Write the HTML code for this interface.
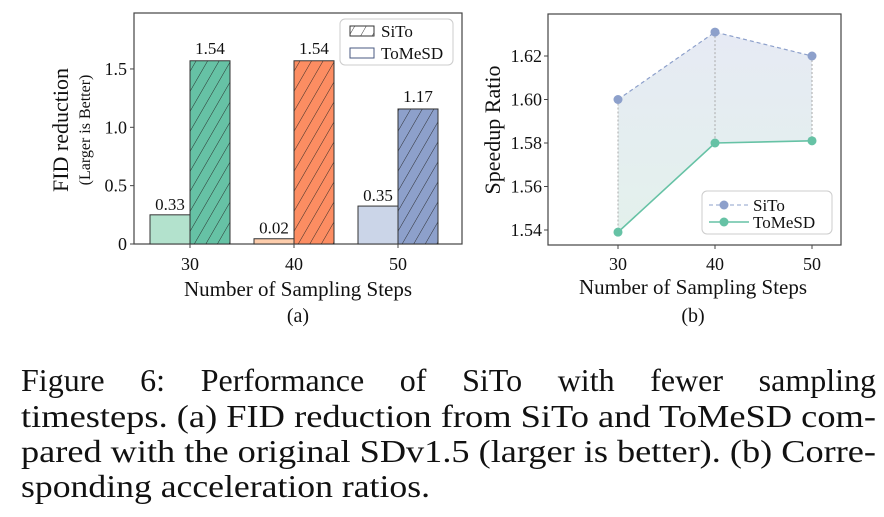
<!DOCTYPE html>
<html><head><meta charset="utf-8"><style>
html,body{margin:0;padding:0;background:#fff;width:884px;height:517px;overflow:hidden}
svg text{font-family:"Liberation Serif",serif;fill:#111}
</style></head><body>
<svg width="884" height="517" viewBox="0 0 884 517" xmlns="http://www.w3.org/2000/svg">
<defs>
<pattern id="hatch" patternUnits="userSpaceOnUse" width="10" height="10" patternTransform="rotate(30)">
<line x1="0" y1="0" x2="0" y2="10" stroke="#222" stroke-width="0.9"/>
</pattern>
<linearGradient id="bandGrad" x1="0" y1="0" x2="0" y2="1">
<stop offset="0" stop-color="#e6eaf4"/><stop offset="1" stop-color="#e3f1ec"/>
</linearGradient>
</defs>
<g id="chartA"></g>
<g id="chartB"></g>
<g font-size="32">
<g id="line1">
<text x="21" y="391">Figure</text>
<text x="125" y="391">6:</text>
<text x="184" y="391">Performance</text>
<text x="378" y="391">of</text>
<text x="440" y="391">SiTo</text>
<text x="522" y="391">with</text>
<text x="618" y="391">fewer</text>
<text x="745" y="391">sampling</text>
</g>
<text x="21" y="427" textLength="855" lengthAdjust="spacingAndGlyphs">timesteps. (a) FID reduction from SiTo and ToMeSD com-</text>
<text x="21" y="462" textLength="855" lengthAdjust="spacingAndGlyphs">pared with the original SDv1.5 (larger is better). (b) Corre-</text>
<text x="21" y="497" textLength="409" lengthAdjust="spacingAndGlyphs">sponding acceleration ratios.</text>
</g>
</svg>
<script>
const stepsA = ["30","40","50"];
const tomeVals = [0.25, 0.045, 0.325];
const sitoVals = [1.57, 1.57, 1.157];
const tomeLabels = ["0.33","0.02","0.35"];
const sitoLabels = ["1.54","1.54","1.17"];
const yTicksA = [0, 0.5, 1.0, 1.5];
const yTickLabelsA = ["0","0.5","1.0","1.5"];

const stepsB = [30, 40, 50];
const sitoSpeed = [1.600, 1.631, 1.620];
const tomeSpeed = [1.539, 1.580, 1.581];
const yTicksB = [1.54, 1.56, 1.58, 1.60, 1.62];
const yTickLabelsB = ["1.54","1.56","1.58","1.60","1.62"];

// justify caption line 1
(function(){
  const ws=[...document.querySelectorAll('#line1 text')];
  const widths=ws.map(w=>w.getComputedTextLength());
  const sum=widths.reduce((a,b)=>a+b,0);
  const gap=(855-sum)/(ws.length-1);
  let x=21;
  ws.forEach((w,i)=>{w.setAttribute('x',x);x+=widths[i]+gap;});
})();

const NS="http://www.w3.org/2000/svg";
function mk(parent,tag,attrs,txt){const e=document.createElementNS(NS,tag);for(const k in attrs)e.setAttribute(k,attrs[k]);if(txt!==undefined)e.textContent=txt;parent.appendChild(e);return e;}

// Chart A
const A=document.getElementById('chartA');
const yA=v=>244-v*116.7;
const xA=i=>190+i*104;
const darkC=["#66c2a5","#fc8d62","#8da0cb"];
const lightC=["#b3e2cd","#fdcdac","#cbd5e8"];
let r=mk(A,'rect',{x:134,y:13,width:328,height:231,fill:'none',stroke:'#444','stroke-width':1.2});


yTicksA.forEach((v,i)=>{
  let l=mk(A,'line',{x1:130,x2:134,y1:yA(v),y2:yA(v),stroke:'#444'});
  
  
  let t=mk(A,'text',{x:127,y:yA(v)+6,'text-anchor':'end','font-size':18},yTickLabelsA[i]);
  
  
});
stepsA.forEach((s,i)=>{
  const cx=xA(i);
  let b1=mk(A,'rect',{x:cx-40,y:yA(tomeVals[i]),width:40,height:yA(0)-yA(tomeVals[i]),fill:lightC[i],stroke:'#333','stroke-width':1});
  
  
  let b2=mk(A,'rect',{x:cx,y:yA(sitoVals[i]),width:40,height:yA(0)-yA(sitoVals[i]),fill:darkC[i],stroke:'#333','stroke-width':1});
  
  
  let h=mk(A,'rect',{x:cx,y:yA(sitoVals[i]),width:40,height:yA(0)-yA(sitoVals[i]),fill:'url(#hatch)'});
  
  
  let t1=mk(A,'text',{x:cx-20,y:yA(tomeVals[i])-5,'text-anchor':'middle','font-size':17},tomeLabels[i]);
  
  
  let t2=mk(A,'text',{x:cx+20,y:yA(sitoVals[i])-7,'text-anchor':'middle','font-size':17},sitoLabels[i]);
  
  
  let tk=mk(A,'line',{x1:cx,x2:cx,y1:244,y2:248,stroke:'#444'});
  
  
  let tl=mk(A,'text',{x:cx,y:270,'text-anchor':'middle','font-size':18},s);
  
  
});
let xt=mk(A,'text',{x:298,y:296,'text-anchor':'middle','font-size':21},'Number of Sampling Steps');


let sa=mk(A,'text',{x:298,y:322,'text-anchor':'middle','font-size':20},'(a)');


let ya=mk(A,'text',{x:0,y:0,'text-anchor':'middle','font-size':22,transform:'translate(68,130) rotate(-90)'},'FID reduction');


let ya2=mk(A,'text',{x:0,y:0,'text-anchor':'middle','font-size':16,transform:'translate(90,130) rotate(-90)'},'(Larger is Better)');


const legA=mk(A,'g',{});


mk(legA,'rect',{x:340,y:19,width:113,height:46,rx:5,fill:'#fff','fill-opacity':0.85,stroke:'#ccc'});
let e1=mk(legA,'rect',{x:350,y:26,width:24,height:10,fill:'url(#hatch)',stroke:'#333'});


mk(legA,'text',{x:381,y:37,'font-size':17},'SiTo');
let e2=mk(legA,'rect',{x:350,y:48,width:24,height:10,fill:'#fff',stroke:'#4a5a80'});


mk(legA,'text',{x:381,y:59,'font-size':17},'ToMeSD');

// Chart B
const B=document.getElementById('chartB');
const yB=v=>230-(v-1.54)/0.02*43.5;
const xB=s=>618+(s-30)*9.7;
let rb=mk(B,'rect',{x:548,y:14,width:293,height:231,fill:'none',stroke:'#444','stroke-width':1.2});


let pts='';
stepsB.forEach((s,i)=>pts+=xB(s)+','+yB(sitoSpeed[i])+' ');
for(let i=stepsB.length-1;i>=0;i--)pts+=xB(stepsB[i])+','+yB(tomeSpeed[i])+' ';
let band=mk(B,'polygon',{points:pts,fill:'url(#bandGrad)'});


stepsB.forEach((s,i)=>{
  let l=mk(B,'line',{x1:xB(s),x2:xB(s),y1:yB(sitoSpeed[i]),y2:yB(tomeSpeed[i]),stroke:'#aaa','stroke-dasharray':'2,2'});
  
  
  let tk=mk(B,'line',{x1:xB(s),x2:xB(s),y1:245,y2:249,stroke:'#444'});
  
  
  let tl=mk(B,'text',{x:xB(s),y:270,'text-anchor':'middle','font-size':18},String(s));
  
  
});
yTicksB.forEach((v,i)=>{
  let l=mk(B,'line',{x1:544,x2:548,y1:yB(v),y2:yB(v),stroke:'#444'});
  
  
  let t=mk(B,'text',{x:542,y:yB(v)+6,'text-anchor':'end','font-size':18},yTickLabelsB[i]);
  
  
});
let sl=mk(B,'polyline',{points:stepsB.map((s,i)=>xB(s)+','+yB(sitoSpeed[i])).join(' '),fill:'none',stroke:'#8da0cb','stroke-width':1.2,'stroke-dasharray':'4,3'});


let tl2=mk(B,'polyline',{points:stepsB.map((s,i)=>xB(s)+','+yB(tomeSpeed[i])).join(' '),fill:'none',stroke:'#66c2a5','stroke-width':1.6});


stepsB.forEach((s,i)=>{
  let p=mk(B,'circle',{cx:xB(s),cy:yB(sitoSpeed[i]),r:4.5,fill:'#8da0cb'});
  
  
  let q=mk(B,'circle',{cx:xB(s),cy:yB(tomeSpeed[i]),r:4.5,fill:'#66c2a5'});
  
  
});
let xtb=mk(B,'text',{x:693,y:294,'text-anchor':'middle','font-size':21},'Number of Sampling Steps');


let sb=mk(B,'text',{x:693,y:322,'text-anchor':'middle','font-size':20},'(b)');


let yb=mk(B,'text',{x:0,y:0,'text-anchor':'middle','font-size':22,transform:'translate(500,130) rotate(-90)'},'Speedup Ratio');


const legB=mk(B,'g',{});


mk(legB,'rect',{x:702,y:191,width:130,height:43,rx:5,fill:'#fff','fill-opacity':0.9,stroke:'#ccc'});
let l1=mk(legB,'line',{x1:709,x2:749,y1:205,y2:205,stroke:'#8da0cb','stroke-dasharray':'4,3'});


mk(legB,'circle',{cx:724,cy:205,r:4.5,fill:'#8da0cb'});
mk(legB,'text',{x:753,y:211,'font-size':17},'SiTo');
let l2=mk(legB,'line',{x1:709,x2:749,y1:222,y2:222,stroke:'#66c2a5','stroke-width':1.6});


mk(legB,'circle',{cx:724,cy:222,r:4.5,fill:'#66c2a5'});
mk(legB,'text',{x:753,y:228,'font-size':17},'ToMeSD');
</script>
</body></html>
